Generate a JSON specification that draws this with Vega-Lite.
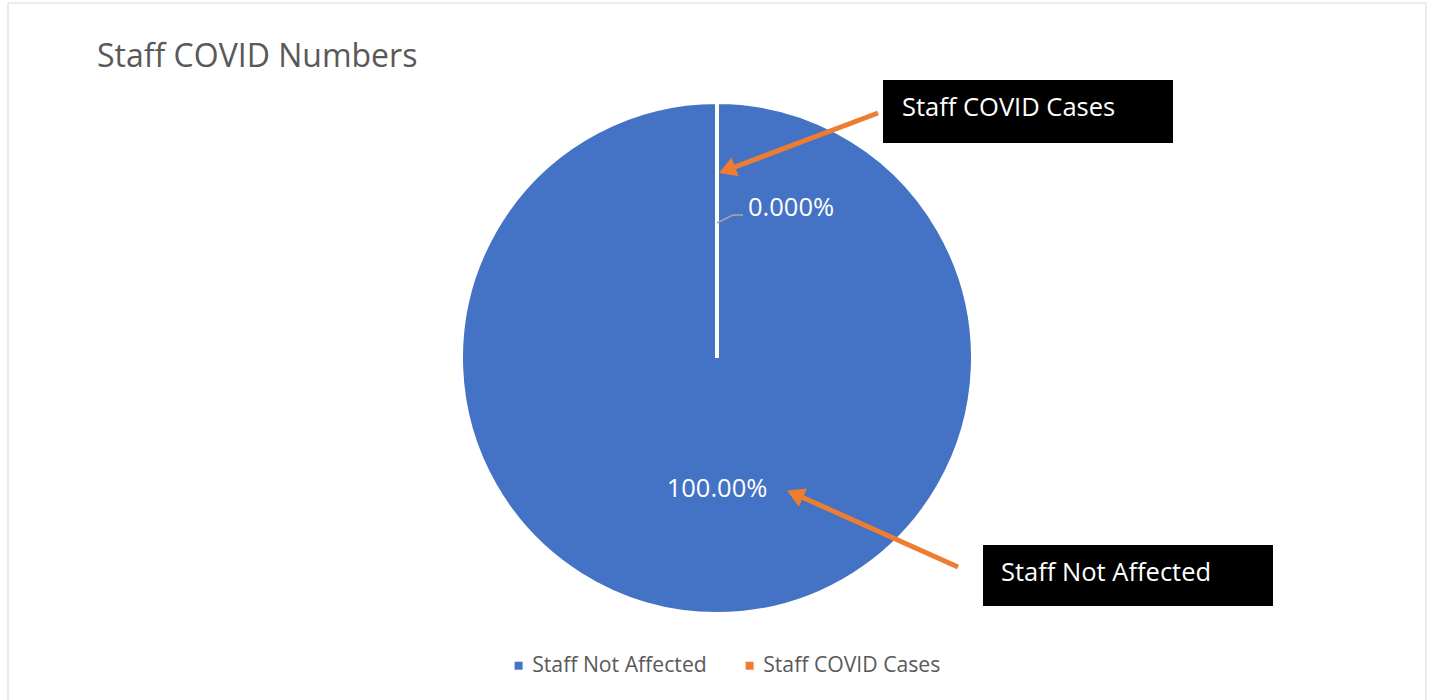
{
  "$schema": "https://vega.github.io/schema/vega-lite/v6.json",
  "width": 1433,
  "height": 700,
  "autosize": "none",
  "padding": 0,
  "background": "white",
  "config": {"view": {"stroke": null}, "font": "Open Sans"},
  "datasets": {
    "pie": [
      {"category": "Staff Not Affected", "value": 99.9999, "order": 1, "label": "100.00%"},
      {"category": "Staff COVID Cases", "value": 0.0001, "order": 2, "label": "0.000%"}
    ],
    "frame": [
      {"x": 8, "y": 3, "x2": 1426, "y2": 3},
      {"x": 8, "y": 3, "x2": 8, "y2": 700},
      {"x": 1426, "y": 3, "x2": 1426, "y2": 700}
    ],
    "title": [{"text": "Staff COVID Numbers", "x": 97, "y": 67}],
    "boxes": [
      {"text": "Staff COVID Cases", "x": 883, "x2": 1173, "y": 80, "y2": 143, "tx": 902, "ty": 108},
      {"text": "Staff Not Affected", "x": 983, "x2": 1273, "y": 545, "y2": 606, "tx": 1001, "ty": 573}
    ],
    "arrows": [
      {"x": 878, "y": 113, "x2": 727, "y2": 170, "angle": 249},
      {"x": 958, "y": 567, "x2": 795, "y2": 494, "angle": 294}
    ],
    "leader": [
      {"x": 717, "y": 223, "i": 1},
      {"x": 733, "y": 215, "i": 2},
      {"x": 743, "y": 215, "i": 3}
    ]
  },
  "layer": [
    {
      "data": {"name": "frame"},
      "mark": {"type": "rule", "stroke": "#d9d9d9", "strokeWidth": 1},
      "encoding": {
        "x": {"field": "x", "type": "quantitative", "scale": {"domain": [0, 1433], "nice": false, "zero": false}, "axis": null},
        "y": {"field": "y", "type": "quantitative", "scale": {"domain": [0, 700], "reverse": true, "nice": false, "zero": false}, "axis": null},
        "x2": {"field": "x2"},
        "y2": {"field": "y2"}
      }
    },
    {
      "data": {"name": "pie"},
      "mark": {"type": "arc", "outerRadius": 256, "stroke": "white", "strokeWidth": 4},
      "encoding": {
        "x": {"datum": 717, "type": "quantitative"},
        "y": {"datum": 358, "type": "quantitative"},
        "theta": {"field": "value", "type": "quantitative", "stack": true},
        "order": {"field": "order"},
        "color": {
          "field": "category",
          "type": "nominal",
          "scale": {"domain": ["Staff Not Affected", "Staff COVID Cases"], "range": ["#4472C4", "#ED7D31"]},
          "legend": {
            "orient": "none",
            "legendX": 508,
            "legendY": 655,
            "direction": "horizontal",
            "title": null,
            "symbolType": "square",
            "symbolSize": 64,
            "symbolStrokeWidth": 0,
            "symbolOpacity": 1,
            "labelFontSize": 21.2,
            "labelFont": "Open Sans",
            "labelColor": "#595959",
            "labelLimit": 0,
            "labelOffset": 3,
            "columnPadding": 32
          }
        }
      }
    },
    {
      "data": {"name": "pie"},
      "mark": {"type": "text", "radius": 131, "fontSize": 25.5, "color": "white", "align": "center", "baseline": "middle"},
      "encoding": {
        "x": {"datum": 717, "type": "quantitative"},
        "y": {"datum": 358, "type": "quantitative"},
        "theta": {"field": "value", "type": "quantitative", "stack": true},
        "order": {"field": "order"},
        "text": {"field": "label"},
        "opacity": {"condition": {"test": "datum.category === 'Staff Not Affected'", "value": 1}, "value": 0}
      }
    },
    {
      "data": {"name": "pie"},
      "mark": {"type": "text", "radius": 142, "fontSize": 25.5, "color": "white", "align": "left", "baseline": "alphabetic", "dx": 31},
      "encoding": {
        "x": {"datum": 717, "type": "quantitative"},
        "y": {"datum": 358, "type": "quantitative"},
        "theta": {"field": "value", "type": "quantitative", "stack": true},
        "order": {"field": "order"},
        "text": {"field": "label"},
        "opacity": {"condition": {"test": "datum.category === 'Staff COVID Cases'", "value": 1}, "value": 0}
      }
    },
    {
      "data": {"name": "leader"},
      "mark": {"type": "line", "stroke": "#a6a6a6", "strokeWidth": 1.5},
      "encoding": {
        "x": {"field": "x", "type": "quantitative"},
        "y": {"field": "y", "type": "quantitative"},
        "order": {"field": "i"}
      }
    },
    {
      "data": {"name": "title"},
      "mark": {"type": "text", "fontSize": 32, "color": "#595959", "align": "left", "baseline": "alphabetic"},
      "encoding": {
        "x": {"field": "x", "type": "quantitative"},
        "y": {"field": "y", "type": "quantitative"},
        "text": {"field": "text"}
      }
    },
    {
      "data": {"name": "boxes"},
      "mark": {"type": "rect", "fill": "black"},
      "encoding": {
        "x": {"field": "x", "type": "quantitative"},
        "x2": {"field": "x2"},
        "y": {"field": "y", "type": "quantitative"},
        "y2": {"field": "y2"}
      }
    },
    {
      "data": {"name": "boxes"},
      "mark": {"type": "text", "fontSize": 25.5, "color": "white", "align": "left", "baseline": "middle"},
      "encoding": {
        "x": {"field": "tx", "type": "quantitative"},
        "y": {"field": "ty", "type": "quantitative"},
        "text": {"field": "text"}
      }
    },
    {
      "data": {"name": "arrows"},
      "mark": {"type": "rule", "stroke": "#ED7D31", "strokeWidth": 5},
      "encoding": {
        "x": {"field": "x", "type": "quantitative"},
        "y": {"field": "y", "type": "quantitative"},
        "x2": {"field": "x2"},
        "y2": {"field": "y2"}
      }
    },
    {
      "data": {"name": "arrows"},
      "mark": {"type": "point", "shape": "triangle-up", "filled": true, "size": 400, "color": "#ED7D31", "opacity": 1},
      "encoding": {
        "x": {"field": "x2", "type": "quantitative"},
        "y": {"field": "y2", "type": "quantitative"},
        "angle": {"field": "angle", "type": "quantitative", "scale": null}
      }
    }
  ]
}
